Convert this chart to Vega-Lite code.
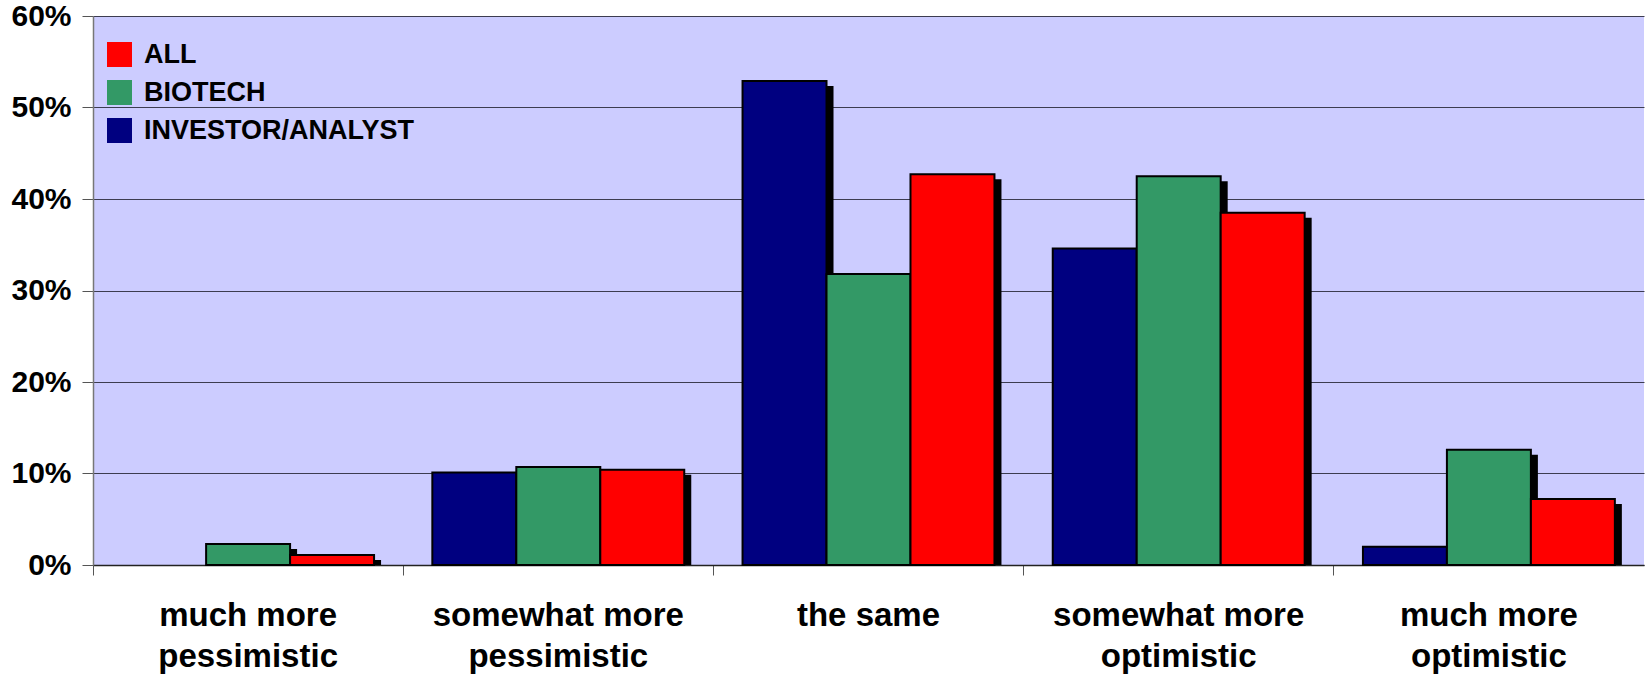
{
  "$schema": "https://vega.github.io/schema/vega-lite/v6.json",
  "width": 1551,
  "height": 549,
  "autosize": {"type": "none"},
  "padding": {"left": 93, "top": 16, "right": 3, "bottom": 112},
  "background": "white",
  "config": {
    "view": {"fill": "#CCCCFF", "stroke": null},
    "font": "Liberation Sans",
    "axis": {
      "labelFont": "Liberation Sans",
      "labelFontWeight": "bold",
      "labelColor": "black",
      "labelLimit": 0,
      "title": null
    }
  },
  "data": {
    "values": [
      {"outlook": "much more pessimistic", "group": "BIOTECH", "share": 0.023},
      {"outlook": "much more pessimistic", "group": "ALL", "share": 0.011},
      {"outlook": "somewhat more pessimistic", "group": "INVESTOR/ANALYST", "share": 0.101},
      {"outlook": "somewhat more pessimistic", "group": "BIOTECH", "share": 0.107},
      {"outlook": "somewhat more pessimistic", "group": "ALL", "share": 0.104},
      {"outlook": "the same", "group": "INVESTOR/ANALYST", "share": 0.529},
      {"outlook": "the same", "group": "BIOTECH", "share": 0.318},
      {"outlook": "the same", "group": "ALL", "share": 0.427},
      {"outlook": "somewhat more optimistic", "group": "INVESTOR/ANALYST", "share": 0.346},
      {"outlook": "somewhat more optimistic", "group": "BIOTECH", "share": 0.425},
      {"outlook": "somewhat more optimistic", "group": "ALL", "share": 0.385},
      {"outlook": "much more optimistic", "group": "INVESTOR/ANALYST", "share": 0.020},
      {"outlook": "much more optimistic", "group": "BIOTECH", "share": 0.126},
      {"outlook": "much more optimistic", "group": "ALL", "share": 0.072}
    ]
  },
  "encoding": {
    "x": {
      "field": "outlook",
      "type": "nominal",
      "sort": ["much more pessimistic", "somewhat more pessimistic", "the same", "somewhat more optimistic", "much more optimistic"],
      "scale": {"paddingInner": 0, "paddingOuter": 0},
      "axis": {
        "labelAngle": 0,
        "bandPosition": 0,
        "labelFontSize": 33,
        "labelLineHeight": 41,
        "labelBaseline": "top",
        "labelPadding": 24,
        "tickSize": 10,
        "tickColor": "#555555",
        "domainColor": "#222222",
        "domainWidth": 1.5,
        "grid": false,
        "labelExpr": "datum.value == 'the same' ? ['the same'] : [slice(datum.value, 0, lastindexof(datum.value, ' ')), slice(datum.value, lastindexof(datum.value, ' ') + 1)]"
      }
    },
    "y": {
      "field": "share",
      "type": "quantitative",
      "scale": {"domain": [0, 0.6], "nice": false},
      "axis": {
        "format": ".0%",
        "values": [0, 0.1, 0.2, 0.3, 0.4, 0.5, 0.6],
        "labelFontSize": 30,
        "labelPadding": 11,
        "tickSize": 11,
        "tickColor": "#555555",
        "domainColor": "#777777",
        "domainWidth": 1.5,
        "gridColor": "#3c3c50",
        "gridWidth": 1.2,
        "gridOpacity": 1
      }
    }
  },
  "layer": [
    {
      "mark": {"type": "bar", "color": "black", "yOffset": 5, "clip": true},
      "encoding": {
        "xOffset": {
          "field": "group",
          "type": "nominal",
          "sort": ["INVESTOR/ANALYST", "BIOTECH", "ALL"],
          "scale": {"paddingInner": 0, "paddingOuter": 0.347, "range": [7, 317.2]}
        }
      }
    },
    {
      "mark": {"type": "bar", "stroke": "black", "strokeWidth": 2},
      "encoding": {
        "xOffset": {
          "field": "group",
          "type": "nominal",
          "sort": ["INVESTOR/ANALYST", "BIOTECH", "ALL"],
          "scale": {"paddingInner": 0, "paddingOuter": 0.347}
        },
        "color": {
          "field": "group",
          "type": "nominal",
          "scale": {"domain": ["ALL", "BIOTECH", "INVESTOR/ANALYST"], "range": ["#FF0000", "#339966", "#000080"]},
          "legend": {
            "title": null,
            "orient": "none",
            "legendX": 13,
            "legendY": 25,
            "symbolType": "square",
            "symbolSize": 625,
            "symbolStrokeWidth": 0,
            "labelFont": "Liberation Sans",
            "labelFontWeight": "bold",
            "labelFontSize": 27,
            "labelColor": "black",
            "labelLimit": 0,
            "labelOffset": 11,
            "rowPadding": 10,
            "encode": {
              "symbols": {
                "update": {
                  "fill": {"signal": "datum.value === 'INVESTOR/ANALYST' ? '#333399' : (datum.value === 'BIOTECH' ? '#339966' : '#FF0000')"},
                  "opacity": {"value": 1}
                }
              }
            }
          }
        }
      }
    }
  ],
  "resolve": {"scale": {"xOffset": "independent"}}
}
